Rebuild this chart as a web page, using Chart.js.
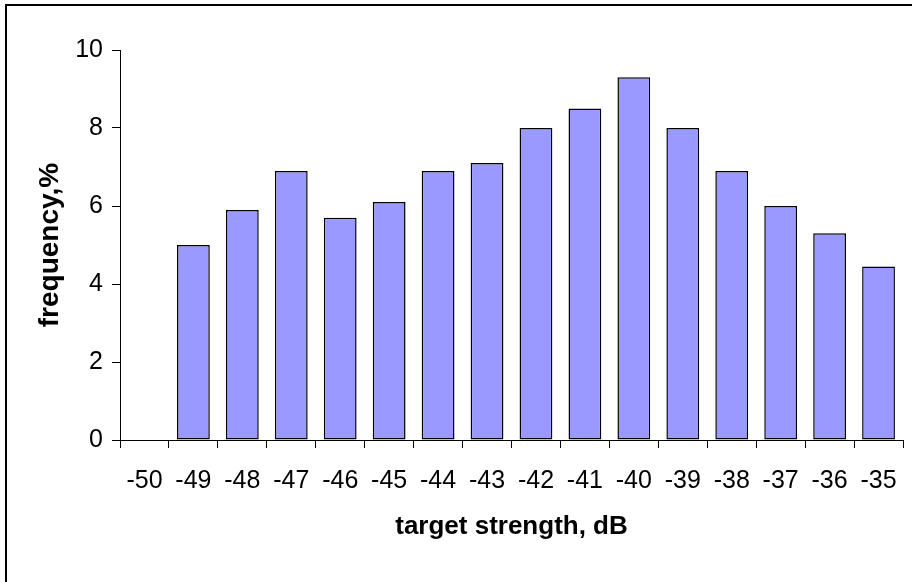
<!DOCTYPE html>
<html>
<head>
<meta charset="utf-8">
<script src="https://cdn.jsdelivr.net/npm/chart.js@4/dist/chart.umd.min.js"></script>
<style>
  html, body { margin: 0; padding: 0; background: #fff; }
  #wrap { position: relative; width: 912px; height: 582px; }
</style>
</head>
<body>
<div id="wrap"><canvas id="c"></canvas></div>
<script>
// target strength classes, dB
const categories = ['-50', '-49', '-48', '-47', '-46', '-45', '-44', '-43', '-42', '-41', '-40', '-39', '-38', '-37', '-36', '-35'];
// frequency, %
const frequency = [0, 5.0, 5.9, 6.9, 5.7, 6.1, 6.9, 7.1, 8.0, 8.5, 9.3, 8.0, 6.9, 6.0, 5.3, 4.45];
const yTicks = [0, 2, 4, 6, 8, 10];

// left/top frame line like the original sheet
const frame = {
    id: 'frame',
    afterDraw(chart) {
        const ctx = chart.ctx;
        ctx.save();
        ctx.strokeStyle = '#000'; ctx.lineWidth = 2;
        ctx.beginPath();
        ctx.moveTo(6, 582); ctx.lineTo(6, 5); ctx.lineTo(912, 5);
        ctx.stroke();
        ctx.restore();
    }
};

const tickFont = { family: 'Liberation Sans, Arial', size: 25 };

new Chart(document.getElementById('c'), {
    type: 'bar',
    data: {
        labels: categories,
        datasets: [{
            data: frequency,
            backgroundColor: '#9999ff',
            borderColor: '#000',
            borderWidth: 1.5,
            borderSkipped: false,
            barPercentage: 0.67,
            categoryPercentage: 1
        }]
    },
    options: {
        responsive: true, maintainAspectRatio: false, animation: false,
        layout: { padding: { left: 0, top: 50, right: 9, bottom: 40 } },
        plugins: { legend: { display: false }, tooltip: { enabled: false } },
        scales: {
            x: {
                grid: { drawOnChartArea: false, drawTicks: true, tickLength: 8, color: '#000', offset: true },
                border: { color: '#000', width: 1 },
                ticks: { color: '#000', font: tickFont, padding: 18, maxRotation: 0 },
                title: { display: true, text: 'target strength, dB', color: '#000',
                         font: { family: 'Liberation Sans, Arial', size: 26, weight: 'bold' }, padding: 0 },
                afterFit(scale) {
                    scale.height = 102;
                    // labels sit well inside the outer categories, no extra side room needed
                    scale.paddingLeft = 0; scale.paddingRight = 0;
                }
            },
            y: {
                min: 0, max: 10,
                afterBuildTicks(scale) { scale.ticks = yTicks.map(v => ({ value: v })); },
                grid: { drawOnChartArea: false, drawTicks: true, tickLength: 8, color: '#000' },
                border: { color: '#000', width: 1 },
                ticks: { color: '#000', font: tickFont, padding: 9 },
                title: { display: true, text: 'frequency,%', color: '#000',
                         font: { family: 'Liberation Sans, Arial', size: 28, weight: 'bold' }, padding: { top: 33, bottom: 0 } },
                afterFit(scale) { scale.width = 120; }
            }
        }
    },
    plugins: [frame]
});
</script>
</body>
</html>
